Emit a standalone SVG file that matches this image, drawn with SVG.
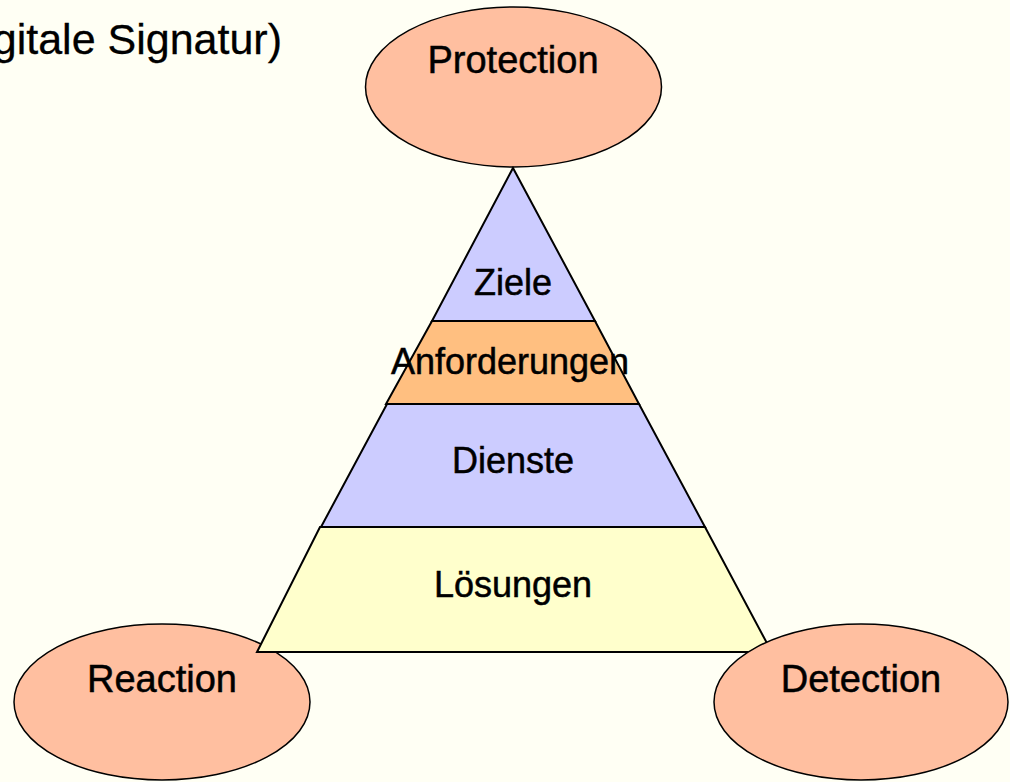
<svg xmlns="http://www.w3.org/2000/svg" width="1010" height="782" viewBox="0 0 1010 782">
<style>
.bg{fill:#FFFFF4}
.ell{fill:#FFBFA0;stroke:#000;stroke-width:1.5}
.lay{stroke:#000;stroke-width:2;stroke-linejoin:miter}
.big{font-family:"Liberation Sans",Arial,sans-serif;font-size:38px;fill:#000;stroke:#000;stroke-width:0.5;text-anchor:middle}
.lab{font-family:"Liberation Sans",Arial,sans-serif;font-size:36px;fill:#000;stroke:#000;stroke-width:0.5;text-anchor:middle}
</style>
<rect class="bg" x="0" y="0" width="1010" height="782"/>
<text x="282" y="54" font-family="Liberation Sans, Arial, sans-serif" font-size="43" text-anchor="end" fill="#000" stroke="#000" stroke-width="0.3">gitale Signatur)</text>
<g id="protection">
<ellipse class="ell" cx="513.5" cy="87" rx="148" ry="80"/>
<text class="big" x="513" y="73">Protection</text>
</g>
<g id="reaction">
<ellipse class="ell" cx="162" cy="702" rx="148" ry="78"/>
<text class="big" x="162" y="692">Reaction</text>
</g>
<g id="loesungen">
<polygon class="lay" fill="#FFFFCC" points="320,527 705,527 768,645 769,652 257,652"/>
<text class="lab" x="513" y="597">Lösungen</text>
</g>
<g id="dienste">
<polygon class="lay" fill="#CCCCFF" points="387,404 639,404 705,527 321,527"/>
<text class="lab" x="513" y="473">Dienste</text>
</g>
<g id="anforderungen">
<polygon class="lay" fill="#FFBF80" points="432,321 595,321 639,404 386,404"/>
<text class="lab" x="510" y="374">Anforderungen</text>
</g>
<g id="ziele">
<polygon class="lay" fill="#CCCCFF" points="513,168 595,321 432,321"/>
<text class="lab" x="513" y="295">Ziele</text>
</g>
<g id="detection">
<ellipse class="ell" cx="861" cy="702" rx="147" ry="78"/>
<text class="big" x="861" y="692">Detection</text>
</g>
</svg>
